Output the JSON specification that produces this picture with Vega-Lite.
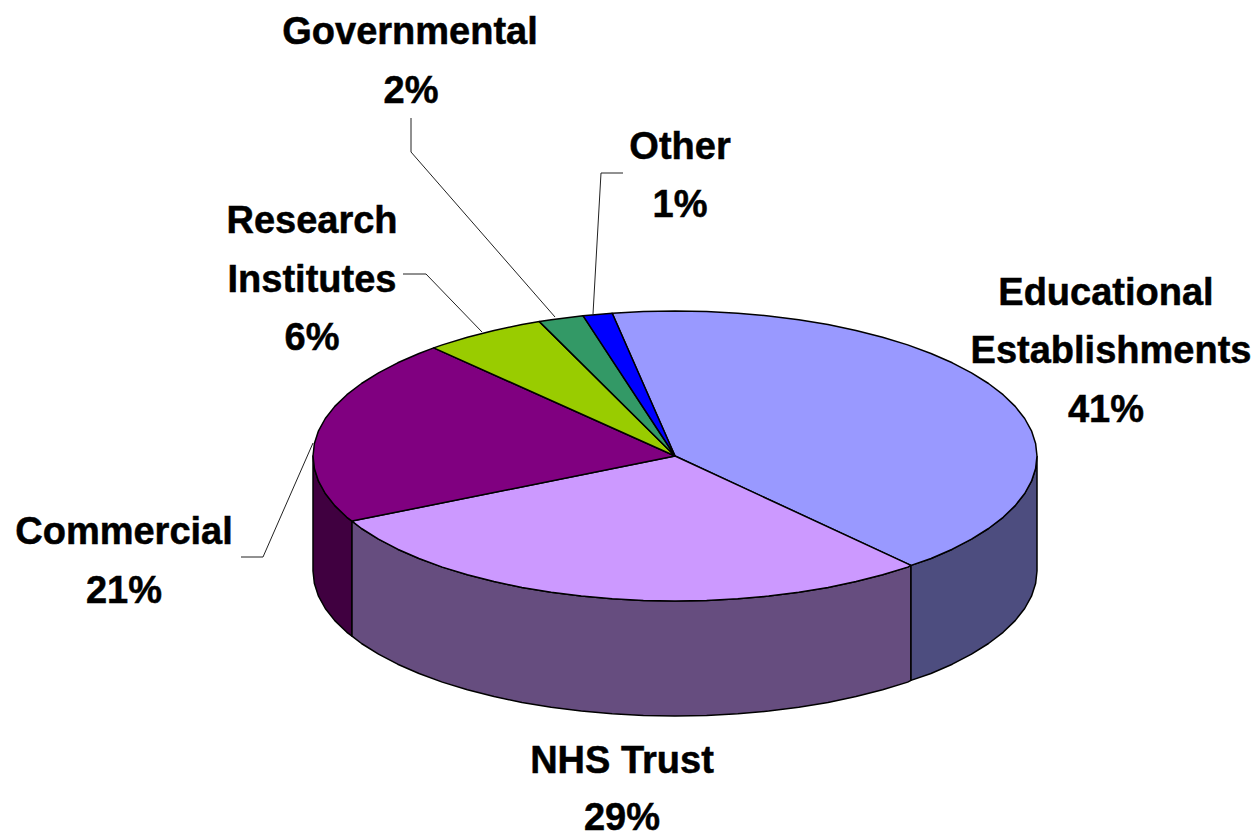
{"$schema":"https://vega.github.io/schema/vega-lite/v6.json","width":1254,"height":835,"autosize":{"type":"none"},"padding":0,"background":"white","view":{"stroke":null},
"datasets":{"outline":[
{"k":"Commercial side","o":1,"x":352,"y":521.1},{"k":"Commercial side","o":2,"x":346.9,"y":517.3},{"k":"Commercial side","o":3,"x":334.8,"y":505.6},{"k":"Commercial side","o":4,"x":325.3,"y":493.5},{"k":"Commercial side","o":5,"x":318.5,"y":481.2},{"k":"Commercial side","o":6,"x":314.4,"y":468.6},{"k":"Commercial side","o":7,"x":313,"y":456},{"k":"Commercial side","o":8,"x":313,"y":571},{"k":"Commercial side","o":9,"x":314.4,"y":583.6},{"k":"Commercial side","o":10,"x":318.5,"y":596.2},{"k":"Commercial side","o":11,"x":325.3,"y":608.5},{"k":"Commercial side","o":12,"x":334.8,"y":620.6},{"k":"Commercial side","o":13,"x":346.9,"y":632.3},{"k":"Commercial side","o":14,"x":352,"y":636.1},{"k":"Commercial side","o":15,"x":352,"y":521.1},
{"k":"NHS side","o":1,"x":911,"y":565.4},{"k":"NHS side","o":2,"x":907.7,"y":567.1},{"k":"NHS side","o":3,"x":882.6,"y":574.8},{"k":"NHS side","o":4,"x":856,"y":581.6},{"k":"NHS side","o":5,"x":828,"y":587.4},{"k":"NHS side","o":6,"x":798.8,"y":592.3},{"k":"NHS side","o":7,"x":768.7,"y":596.1},{"k":"NHS side","o":8,"x":737.8,"y":598.8},{"k":"NHS side","o":9,"x":706.6,"y":600.4},{"k":"NHS side","o":10,"x":675,"y":601},{"k":"NHS side","o":11,"x":643.4,"y":600.4},{"k":"NHS side","o":12,"x":612.2,"y":598.8},{"k":"NHS side","o":13,"x":581.3,"y":596.1},{"k":"NHS side","o":14,"x":551.2,"y":592.3},{"k":"NHS side","o":15,"x":522,"y":587.4},{"k":"NHS side","o":16,"x":494,"y":581.6},{"k":"NHS side","o":17,"x":467.4,"y":574.8},{"k":"NHS side","o":18,"x":442.3,"y":567.1},{"k":"NHS side","o":19,"x":419,"y":558.5},{"k":"NHS side","o":20,"x":397.7,"y":549.2},{"k":"NHS side","o":21,"x":378.5,"y":539.2},{"k":"NHS side","o":22,"x":361.5,"y":528.5},{"k":"NHS side","o":23,"x":352,"y":521.1},{"k":"NHS side","o":24,"x":352,"y":636.1},{"k":"NHS side","o":25,"x":361.5,"y":643.5},{"k":"NHS side","o":26,"x":378.5,"y":654.2},{"k":"NHS side","o":27,"x":397.7,"y":664.2},{"k":"NHS side","o":28,"x":419,"y":673.5},{"k":"NHS side","o":29,"x":442.3,"y":682.1},{"k":"NHS side","o":30,"x":467.4,"y":689.8},{"k":"NHS side","o":31,"x":494,"y":696.6},{"k":"NHS side","o":32,"x":522,"y":702.4},{"k":"NHS side","o":33,"x":551.2,"y":707.3},{"k":"NHS side","o":34,"x":581.3,"y":711.1},{"k":"NHS side","o":35,"x":612.2,"y":713.8},{"k":"NHS side","o":36,"x":643.4,"y":715.4},{"k":"NHS side","o":37,"x":675,"y":716},{"k":"NHS side","o":38,"x":706.6,"y":715.4},{"k":"NHS side","o":39,"x":737.8,"y":713.8},{"k":"NHS side","o":40,"x":768.7,"y":711.1},{"k":"NHS side","o":41,"x":798.8,"y":707.3},{"k":"NHS side","o":42,"x":828,"y":702.4},{"k":"NHS side","o":43,"x":856,"y":696.6},{"k":"NHS side","o":44,"x":882.6,"y":689.8},{"k":"NHS side","o":45,"x":907.7,"y":682.1},{"k":"NHS side","o":46,"x":911,"y":680.4},{"k":"NHS side","o":47,"x":911,"y":565.4},
{"k":"Educational side","o":1,"x":1037,"y":456},{"k":"Educational side","o":2,"x":1035.6,"y":468.6},{"k":"Educational side","o":3,"x":1031.5,"y":481.2},{"k":"Educational side","o":4,"x":1024.7,"y":493.5},{"k":"Educational side","o":5,"x":1015.2,"y":505.6},{"k":"Educational side","o":6,"x":1003.1,"y":517.3},{"k":"Educational side","o":7,"x":988.5,"y":528.5},{"k":"Educational side","o":8,"x":971.5,"y":539.2},{"k":"Educational side","o":9,"x":952.3,"y":549.2},{"k":"Educational side","o":10,"x":931,"y":558.5},{"k":"Educational side","o":11,"x":911,"y":565.4},{"k":"Educational side","o":12,"x":911,"y":680.4},{"k":"Educational side","o":13,"x":931,"y":673.5},{"k":"Educational side","o":14,"x":952.3,"y":664.2},{"k":"Educational side","o":15,"x":971.5,"y":654.2},{"k":"Educational side","o":16,"x":988.5,"y":643.5},{"k":"Educational side","o":17,"x":1003.1,"y":632.3},{"k":"Educational side","o":18,"x":1015.2,"y":620.6},{"k":"Educational side","o":19,"x":1024.7,"y":608.5},{"k":"Educational side","o":20,"x":1031.5,"y":596.2},{"k":"Educational side","o":21,"x":1035.6,"y":583.6},{"k":"Educational side","o":22,"x":1037,"y":571},{"k":"Educational side","o":23,"x":1037,"y":456},
{"k":"Educational top","o":1,"x":675,"y":456},{"k":"Educational top","o":2,"x":612.2,"y":313.2},{"k":"Educational top","o":3,"x":643.4,"y":311.6},{"k":"Educational top","o":4,"x":675,"y":311},{"k":"Educational top","o":5,"x":706.6,"y":311.6},{"k":"Educational top","o":6,"x":737.8,"y":313.2},{"k":"Educational top","o":7,"x":768.7,"y":315.9},{"k":"Educational top","o":8,"x":798.8,"y":319.7},{"k":"Educational top","o":9,"x":828,"y":324.6},{"k":"Educational top","o":10,"x":856,"y":330.4},{"k":"Educational top","o":11,"x":882.6,"y":337.2},{"k":"Educational top","o":12,"x":907.7,"y":344.9},{"k":"Educational top","o":13,"x":931,"y":353.5},{"k":"Educational top","o":14,"x":952.3,"y":362.8},{"k":"Educational top","o":15,"x":971.5,"y":372.8},{"k":"Educational top","o":16,"x":988.5,"y":383.5},{"k":"Educational top","o":17,"x":1003.1,"y":394.7},{"k":"Educational top","o":18,"x":1015.2,"y":406.4},{"k":"Educational top","o":19,"x":1024.7,"y":418.5},{"k":"Educational top","o":20,"x":1031.5,"y":430.8},{"k":"Educational top","o":21,"x":1035.6,"y":443.4},{"k":"Educational top","o":22,"x":1037,"y":456},{"k":"Educational top","o":23,"x":1035.6,"y":468.6},{"k":"Educational top","o":24,"x":1031.5,"y":481.2},{"k":"Educational top","o":25,"x":1024.7,"y":493.5},{"k":"Educational top","o":26,"x":1015.2,"y":505.6},{"k":"Educational top","o":27,"x":1003.1,"y":517.3},{"k":"Educational top","o":28,"x":988.5,"y":528.5},{"k":"Educational top","o":29,"x":971.5,"y":539.2},{"k":"Educational top","o":30,"x":952.3,"y":549.2},{"k":"Educational top","o":31,"x":931,"y":558.5},{"k":"Educational top","o":32,"x":911,"y":565.4},{"k":"Educational top","o":33,"x":675,"y":456},
{"k":"NHS top","o":1,"x":675,"y":456},{"k":"NHS top","o":2,"x":911,"y":565.4},{"k":"NHS top","o":3,"x":907.7,"y":567.1},{"k":"NHS top","o":4,"x":882.6,"y":574.8},{"k":"NHS top","o":5,"x":856,"y":581.6},{"k":"NHS top","o":6,"x":828,"y":587.4},{"k":"NHS top","o":7,"x":798.8,"y":592.3},{"k":"NHS top","o":8,"x":768.7,"y":596.1},{"k":"NHS top","o":9,"x":737.8,"y":598.8},{"k":"NHS top","o":10,"x":706.6,"y":600.4},{"k":"NHS top","o":11,"x":675,"y":601},{"k":"NHS top","o":12,"x":643.4,"y":600.4},{"k":"NHS top","o":13,"x":612.2,"y":598.8},{"k":"NHS top","o":14,"x":581.3,"y":596.1},{"k":"NHS top","o":15,"x":551.2,"y":592.3},{"k":"NHS top","o":16,"x":522,"y":587.4},{"k":"NHS top","o":17,"x":494,"y":581.6},{"k":"NHS top","o":18,"x":467.4,"y":574.8},{"k":"NHS top","o":19,"x":442.3,"y":567.1},{"k":"NHS top","o":20,"x":419,"y":558.5},{"k":"NHS top","o":21,"x":397.7,"y":549.2},{"k":"NHS top","o":22,"x":378.5,"y":539.2},{"k":"NHS top","o":23,"x":361.5,"y":528.5},{"k":"NHS top","o":24,"x":352,"y":521.1},{"k":"NHS top","o":25,"x":675,"y":456},
{"k":"Commercial top","o":1,"x":675,"y":456},{"k":"Commercial top","o":2,"x":352,"y":521.1},{"k":"Commercial top","o":3,"x":346.9,"y":517.3},{"k":"Commercial top","o":4,"x":334.8,"y":505.6},{"k":"Commercial top","o":5,"x":325.3,"y":493.5},{"k":"Commercial top","o":6,"x":318.5,"y":481.2},{"k":"Commercial top","o":7,"x":314.4,"y":468.6},{"k":"Commercial top","o":8,"x":313,"y":456},{"k":"Commercial top","o":9,"x":314.4,"y":443.4},{"k":"Commercial top","o":10,"x":318.5,"y":430.8},{"k":"Commercial top","o":11,"x":325.3,"y":418.5},{"k":"Commercial top","o":12,"x":334.8,"y":406.4},{"k":"Commercial top","o":13,"x":346.9,"y":394.7},{"k":"Commercial top","o":14,"x":361.5,"y":383.5},{"k":"Commercial top","o":15,"x":378.5,"y":372.8},{"k":"Commercial top","o":16,"x":397.7,"y":362.8},{"k":"Commercial top","o":17,"x":419,"y":353.5},{"k":"Commercial top","o":18,"x":433.7,"y":347.9},{"k":"Commercial top","o":19,"x":675,"y":456},
{"k":"Research top","o":1,"x":675,"y":456},{"k":"Research top","o":2,"x":433.7,"y":347.9},{"k":"Research top","o":3,"x":442.3,"y":344.9},{"k":"Research top","o":4,"x":467.4,"y":337.2},{"k":"Research top","o":5,"x":494,"y":330.4},{"k":"Research top","o":6,"x":522,"y":324.6},{"k":"Research top","o":7,"x":539.4,"y":321.6},{"k":"Research top","o":8,"x":675,"y":456},
{"k":"Governmental top","o":1,"x":675,"y":456},{"k":"Governmental top","o":2,"x":539.4,"y":321.6},{"k":"Governmental top","o":3,"x":551.2,"y":319.7},{"k":"Governmental top","o":4,"x":583,"y":315.7},{"k":"Governmental top","o":5,"x":675,"y":456},
{"k":"Other top","o":1,"x":675,"y":456},{"k":"Other top","o":2,"x":583,"y":315.7},{"k":"Other top","o":3,"x":612.2,"y":313.2},{"k":"Other top","o":4,"x":675,"y":456}
],
"leaders":[
{"n":"Governmental","o":1,"x":411,"y":118},{"n":"Governmental","o":2,"x":411,"y":152},{"n":"Governmental","o":3,"x":555,"y":317},
{"n":"Other","o":1,"x":623,"y":173},{"n":"Other","o":2,"x":601,"y":173},{"n":"Other","o":3,"x":593,"y":314},
{"n":"Research","o":1,"x":403,"y":274},{"n":"Research","o":2,"x":426,"y":274},{"n":"Research","o":3,"x":482,"y":332},
{"n":"Commercial","o":1,"x":241,"y":557},{"n":"Commercial","o":2,"x":263,"y":557},{"n":"Commercial","o":3,"x":313,"y":443}
],
"labels":[
{"t":"Governmental","x":410,"y":33},{"t":"2%","x":411,"y":92},
{"t":"Other","x":680,"y":148},{"t":"1%","x":680,"y":206},
{"t":"Research","x":312,"y":222},{"t":"Institutes","x":312,"y":281},{"t":"6%","x":312,"y":339},
{"t":"Educational","x":1106,"y":294},{"t":"Establishments","x":1111,"y":352},{"t":"41%","x":1106,"y":411},
{"t":"Commercial","x":124,"y":533},{"t":"21%","x":124,"y":592},
{"t":"NHS Trust","x":622,"y":762},{"t":"29%","x":622,"y":819}
]},
"layer":[
{"data":{"name":"outline"},"mark":{"type":"line","stroke":"#000000","strokeWidth":1.5,"strokeJoin":"round","clip":false},
"encoding":{"x":{"field":"x","type":"quantitative","scale":{"domain":[0,1254],"nice":false,"zero":false},"axis":null},"y":{"field":"y","type":"quantitative","scale":{"domain":[835,0],"nice":false,"zero":false},"axis":null},"order":{"field":"o","type":"quantitative"},"detail":{"field":"k"},
"fill":{"field":"k","type":"nominal","legend":null,"scale":{"domain":["Educational top","NHS top","Commercial top","Research top","Governmental top","Other top","Educational side","NHS side","Commercial side"],"range":["#9999FF","#CC99FF","#800080","#99CC00","#339966","#0000FF","#4D4D7F","#664D7F","#400040"]}}}},
{"data":{"name":"leaders"},"mark":{"type":"line","stroke":"#222222","strokeWidth":1},
"encoding":{"x":{"field":"x","type":"quantitative"},"y":{"field":"y","type":"quantitative"},"order":{"field":"o","type":"quantitative"},"detail":{"field":"n"}}},
{"data":{"name":"labels"},"mark":{"type":"text","font":"Liberation Sans","fontWeight":"bold","fontSize":38,"align":"center","baseline":"middle","color":"#000000","stroke":"#000000","strokeWidth":0.5},
"encoding":{"x":{"field":"x","type":"quantitative"},"y":{"field":"y","type":"quantitative"},"text":{"field":"t"}}}
]}
